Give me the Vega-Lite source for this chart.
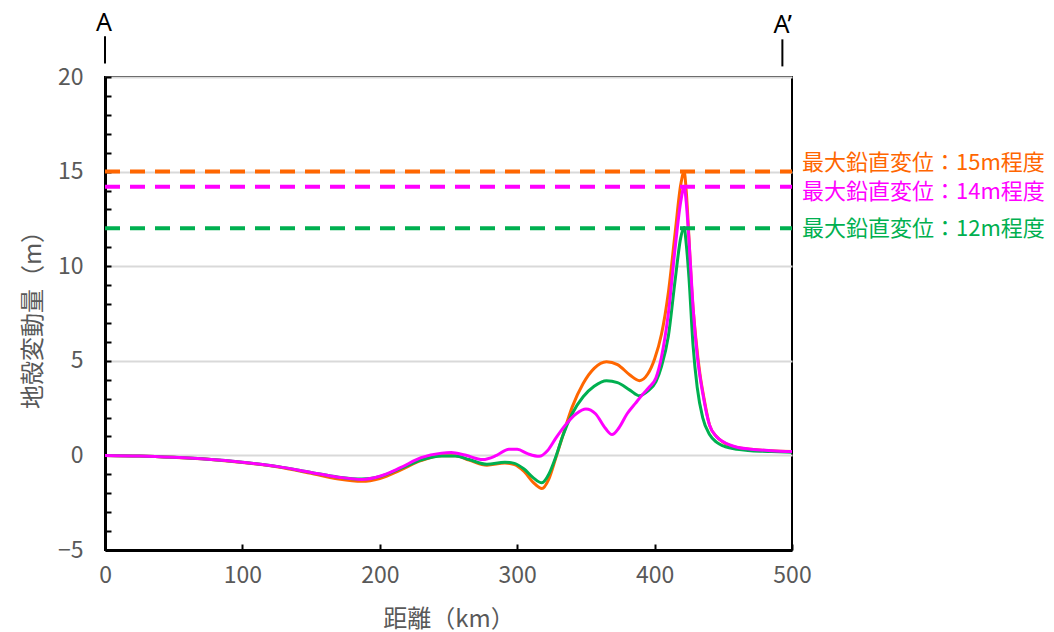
{
  "$schema": "https://vega.github.io/schema/vega-lite/v6.json",
  "width": 687,
  "height": 473,
  "autosize": {"type": "none"},
  "padding": {"left": 105, "top": 77, "right": 262, "bottom": 82},
  "background": "white",
  "config": {
    "view": {"stroke": "black", "strokeWidth": 2},
    "font": "Noto Sans CJK JP"
  },
  "datasets": {
    "curves": [
      {"s":"15m","x":0,"y":0},{"s":"15m","x":25,"y":-0.03},{"s":"15m","x":50,"y":-0.1},{"s":"15m","x":75,"y":-0.2},{"s":"15m","x":100,"y":-0.37},{"s":"15m","x":125,"y":-0.6},{"s":"15m","x":150,"y":-0.95},{"s":"15m","x":170,"y":-1.25},{"s":"15m","x":187,"y":-1.37},{"s":"15m","x":200,"y":-1.22},{"s":"15m","x":215,"y":-0.78},{"s":"15m","x":230,"y":-0.28},{"s":"15m","x":245,"y":-0.02},{"s":"15m","x":255,"y":-0.02},{"s":"15m","x":265,"y":-0.25},{"s":"15m","x":278,"y":-0.52},{"s":"15m","x":291,"y":-0.4},{"s":"15m","x":298,"y":-0.48},{"s":"15m","x":305,"y":-0.85},{"s":"15m","x":312,"y":-1.45},{"s":"15m","x":318,"y":-1.75},{"s":"15m","x":323,"y":-1.25},{"s":"15m","x":328,"y":-0.15},{"s":"15m","x":333,"y":1.0},{"s":"15m","x":340,"y":2.55},{"s":"15m","x":348,"y":3.8},{"s":"15m","x":356,"y":4.6},{"s":"15m","x":365,"y":4.95},{"s":"15m","x":373,"y":4.8},{"s":"15m","x":382,"y":4.25},{"s":"15m","x":389,"y":3.95},{"s":"15m","x":395,"y":4.3},{"s":"15m","x":400,"y":5.1},{"s":"15m","x":405,"y":6.4},{"s":"15m","x":410,"y":8.6},{"s":"15m","x":415,"y":11.8},{"s":"15m","x":419,"y":14.3},{"s":"15m","x":421.5,"y":15},{"s":"15m","x":423,"y":14.0},{"s":"15m","x":425,"y":11.5},{"s":"15m","x":427,"y":8.8},{"s":"15m","x":430,"y":6.2},{"s":"15m","x":433,"y":4.3},{"s":"15m","x":436,"y":3.0},{"s":"15m","x":440,"y":1.6},{"s":"15m","x":445,"y":1.0},{"s":"15m","x":450,"y":0.7},{"s":"15m","x":460,"y":0.42},{"s":"15m","x":470,"y":0.32},{"s":"15m","x":485,"y":0.24},{"s":"15m","x":500,"y":0.2},
      {"s":"12m","x":0,"y":0},{"s":"12m","x":25,"y":-0.03},{"s":"12m","x":50,"y":-0.1},{"s":"12m","x":75,"y":-0.2},{"s":"12m","x":100,"y":-0.36},{"s":"12m","x":125,"y":-0.58},{"s":"12m","x":150,"y":-0.9},{"s":"12m","x":170,"y":-1.15},{"s":"12m","x":187,"y":-1.25},{"s":"12m","x":200,"y":-1.12},{"s":"12m","x":215,"y":-0.7},{"s":"12m","x":230,"y":-0.25},{"s":"12m","x":245,"y":-0.03},{"s":"12m","x":255,"y":-0.03},{"s":"12m","x":265,"y":-0.22},{"s":"12m","x":278,"y":-0.47},{"s":"12m","x":291,"y":-0.36},{"s":"12m","x":298,"y":-0.42},{"s":"12m","x":305,"y":-0.72},{"s":"12m","x":312,"y":-1.2},{"s":"12m","x":318,"y":-1.45},{"s":"12m","x":323,"y":-1.0},{"s":"12m","x":328,"y":-0.1},{"s":"12m","x":333,"y":1.0},{"s":"12m","x":340,"y":2.2},{"s":"12m","x":348,"y":3.1},{"s":"12m","x":356,"y":3.65},{"s":"12m","x":365,"y":3.95},{"s":"12m","x":373,"y":3.85},{"s":"12m","x":382,"y":3.45},{"s":"12m","x":389,"y":3.15},{"s":"12m","x":395,"y":3.4},{"s":"12m","x":401,"y":3.9},{"s":"12m","x":405,"y":4.7},{"s":"12m","x":410,"y":6.3},{"s":"12m","x":415,"y":9.3},{"s":"12m","x":419,"y":11.5},{"s":"12m","x":421.5,"y":12.05},{"s":"12m","x":423,"y":11.2},{"s":"12m","x":425,"y":9.4},{"s":"12m","x":428,"y":5.8},{"s":"12m","x":431,"y":3.6},{"s":"12m","x":435,"y":2.0},{"s":"12m","x":440,"y":1.1},{"s":"12m","x":445,"y":0.7},{"s":"12m","x":450,"y":0.5},{"s":"12m","x":460,"y":0.32},{"s":"12m","x":470,"y":0.25},{"s":"12m","x":485,"y":0.2},{"s":"12m","x":500,"y":0.17},
      {"s":"14m","x":0,"y":0},{"s":"14m","x":25,"y":-0.03},{"s":"14m","x":50,"y":-0.1},{"s":"14m","x":75,"y":-0.2},{"s":"14m","x":100,"y":-0.36},{"s":"14m","x":125,"y":-0.58},{"s":"14m","x":150,"y":-0.9},{"s":"14m","x":170,"y":-1.15},{"s":"14m","x":187,"y":-1.27},{"s":"14m","x":200,"y":-1.1},{"s":"14m","x":215,"y":-0.65},{"s":"14m","x":230,"y":-0.12},{"s":"14m","x":245,"y":0.12},{"s":"14m","x":252,"y":0.15},{"s":"14m","x":262,"y":0.02},{"s":"14m","x":275,"y":-0.22},{"s":"14m","x":285,"y":0.0},{"s":"14m","x":294,"y":0.33},{"s":"14m","x":300,"y":0.32},{"s":"14m","x":308,"y":0.08},{"s":"14m","x":316,"y":-0.05},{"s":"14m","x":322,"y":0.25},{"s":"14m","x":328,"y":0.9},{"s":"14m","x":335,"y":1.6},{"s":"14m","x":343,"y":2.2},{"s":"14m","x":350,"y":2.45},{"s":"14m","x":357,"y":2.2},{"s":"14m","x":364,"y":1.45},{"s":"14m","x":369,"y":1.1},{"s":"14m","x":374,"y":1.45},{"s":"14m","x":380,"y":2.2},{"s":"14m","x":386,"y":2.75},{"s":"14m","x":391,"y":3.2},{"s":"14m","x":396,"y":3.6},{"s":"14m","x":401,"y":4.1},{"s":"14m","x":405,"y":5.2},{"s":"14m","x":410,"y":7.5},{"s":"14m","x":415,"y":11},{"s":"14m","x":419,"y":13.4},{"s":"14m","x":421.5,"y":14.2},{"s":"14m","x":423,"y":13.4},{"s":"14m","x":425,"y":11.4},{"s":"14m","x":428,"y":7.8},{"s":"14m","x":431,"y":5.3},{"s":"14m","x":435,"y":3.3},{"s":"14m","x":440,"y":1.6},{"s":"14m","x":445,"y":1.0},{"s":"14m","x":450,"y":0.72},{"s":"14m","x":460,"y":0.43},{"s":"14m","x":470,"y":0.33},{"s":"14m","x":485,"y":0.25},{"s":"14m","x":500,"y":0.2}
    ],
    "maxlines": [
      {"s":"15m","y":15,"label":"最大鉛直変位：15m程度"},
      {"s":"14m","y":14.2,"label":"最大鉛直変位：14m程度"},
      {"s":"12m","y":12,"label":"最大鉛直変位：12m程度"}
    ],
    "sections": [
      {"name":"A","x":0,"ty":22.41,"t1":22.15,"t2":20.72},
      {"name":"A’","x":493,"ty":22.33,"t1":21.99,"t2":20.56}
    ]
  },
  "layer": [
    {
      "data": {"name": "curves"},
      "mark": {"type": "line", "interpolate": "monotone", "strokeWidth": 3},
      "encoding": {
        "x": {
          "field": "x", "type": "quantitative",
          "scale": {"domain": [0, 500], "nice": false, "zero": false},
          "axis": {
            "values": [0, 100, 200, 300, 400, 500],
            "tickCount": 10,
            "title": "距離（km）",
            "titleFont": "Noto Sans CJK JP", "titleFontSize": 24, "titleFontWeight": "normal", "titleColor": "#595959", "titlePadding": 20,
            "labelFont": "Noto Sans CJK JP", "labelFontSize": 23, "labelColor": "#595959", "labelPadding": 20,
            "labelFlush": false, "labelOverlap": false,
            "tickSize": -6, "tickColor": "black", "tickWidth": 2,
            "domainColor": "black", "domainWidth": 3,
            "grid": false
          }
        },
        "y": {
          "field": "y", "type": "quantitative",
          "scale": {"domain": [-5, 20], "nice": false, "zero": false},
          "axis": {
            "values": [-5,-4,-3,-2,-1,0,1,2,3,4,5,6,7,8,9,10,11,12,13,14,15,16,17,18,19,20],
            "tickCount": 30,
            "labelExpr": "datum.value % 5 === 0 ? datum.label : ''",
            "title": "地殻変動量（m）",
            "titleFont": "Noto Sans CJK JP", "titleFontSize": 24, "titleFontWeight": "normal", "titleColor": "#595959", "titlePadding": 12,
            "labelFont": "Noto Sans CJK JP", "labelFontSize": 23, "labelColor": "#595959", "labelPadding": 28,
            "labelFlush": false, "labelOverlap": false,
            "tickSize": -6, "tickColor": "black", "tickWidth": 2,
            "domainColor": "black", "domainWidth": 3,
            "grid": true, "gridColor": "#d9d9d9", "gridWidth": 2,
            "gridOpacity": {"condition": {"test": "datum.value % 5 !== 0", "value": 0}, "value": 1}
          }
        },
        "color": {
          "field": "s", "type": "nominal",
          "scale": {"domain": ["15m", "12m", "14m"], "range": ["#FF6600", "#00B050", "#FF00FF"]},
          "legend": null
        },
        "order": {"field": "x", "type": "quantitative"}
      }
    },
    {
      "data": {"name": "maxlines"},
      "mark": {"type": "rule", "strokeWidth": 4, "strokeDash": [15, 10]},
      "encoding": {
        "y": {"field": "y", "type": "quantitative"},
        "x": {"datum": 0, "type": "quantitative"},
        "x2": {"datum": 500},
        "color": {"field": "s", "type": "nominal"}
      }
    },
    {
      "data": {"name": "maxlines"},
      "transform": [{"filter": "datum.s === '15m'"}],
      "mark": {"type": "text", "align": "left", "baseline": "middle", "dx": 10, "dy": -9, "fontSize": 22, "font": "Noto Sans CJK JP"},
      "encoding": {
        "x": {"datum": 500, "type": "quantitative"},
        "y": {"field": "y", "type": "quantitative"},
        "text": {"field": "label"},
        "color": {"field": "s", "type": "nominal"}
      }
    },
    {
      "data": {"name": "maxlines"},
      "transform": [{"filter": "datum.s === '14m'"}],
      "mark": {"type": "text", "align": "left", "baseline": "middle", "dx": 10, "dy": 5, "fontSize": 22, "font": "Noto Sans CJK JP"},
      "encoding": {
        "x": {"datum": 500, "type": "quantitative"},
        "y": {"field": "y", "type": "quantitative"},
        "text": {"field": "label"},
        "color": {"field": "s", "type": "nominal"}
      }
    },
    {
      "data": {"name": "maxlines"},
      "transform": [{"filter": "datum.s === '12m'"}],
      "mark": {"type": "text", "align": "left", "baseline": "middle", "dx": 10, "dy": 1, "fontSize": 22, "font": "Noto Sans CJK JP"},
      "encoding": {
        "x": {"datum": 500, "type": "quantitative"},
        "y": {"field": "y", "type": "quantitative"},
        "text": {"field": "label"},
        "color": {"field": "s", "type": "nominal"}
      }
    },
    {
      "data": {"name": "sections"},
      "mark": {"type": "rule", "strokeWidth": 2, "color": "black", "clip": false},
      "encoding": {
        "x": {"field": "x", "type": "quantitative"},
        "y": {"field": "t1", "type": "quantitative"},
        "y2": {"field": "t2"}
      }
    },
    {
      "data": {"name": "sections"},
      "mark": {"type": "text", "align": "left", "baseline": "alphabetic", "dx": -9, "fontSize": 25, "font": "Noto Sans", "color": "black", "clip": false},
      "encoding": {
        "x": {"field": "x", "type": "quantitative"},
        "y": {"field": "ty", "type": "quantitative"},
        "text": {"field": "name"}
      }
    }
  ]
}
